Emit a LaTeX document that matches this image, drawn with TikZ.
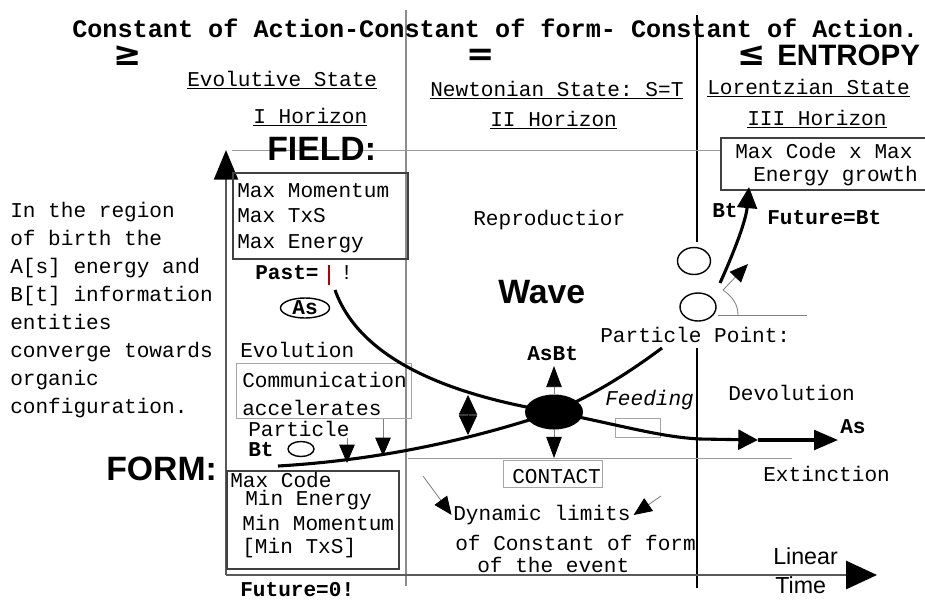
\documentclass[tikz,border=0pt]{standalone}
\usepackage{fontspec}
\setmainfont{Liberation Serif}
\setsansfont{Liberation Sans}
\setmonofont{Liberation Mono}
\newfontfamily\relfont{DejaVu Sans}
\usetikzlibrary{arrows.meta,positioning,shapes.geometric}
\tikzset{
  mono/.style={anchor=west, inner sep=0pt, font=\ttfamily\fontsize{15}{18}\selectfont},
  tag/.style={mono, font=\ttfamily\bfseries\fontsize{15}{18}\selectfont},
  bigsans/.style={anchor=west, inner sep=0pt, font=\sffamily\bfseries\fontsize{24}{28}\selectfont},
  panel/.style={draw=black!75, line width=1.5pt, anchor=north west, inner sep=0pt},
  faintbox/.style={draw=black!35, line width=0.7pt, anchor=north west, inner sep=0pt},
  flow/.style={line width=2.2pt},
  guide/.style={draw=black!50, line width=0.6pt},
  axis/.style={draw=black!65, line width=1.6pt},
  arr/.style={-{Triangle[length=13pt,width=11pt,color=black]}},
  bead/.style={ellipse, draw, line width=1pt, inner sep=0pt}
}

\begin{document}
\begin{tikzpicture}[x=0.025cm, y=-0.025cm]
\useasboundingbox (0,0) rectangle (925,600);

% dividers between the three states
\draw[black!45, line width=1.5pt] (406,10) -- (406,586);
\draw[black, line width=1.2pt] (697,15) -- (697,242);
\draw[black, line width=1.2pt] (697,348) -- (697,588);
\draw[guide, black!40] (232,150) -- (720,150);
\draw[guide, black!40] (408,458) -- (792,458);

% title row
\node[anchor=west, inner sep=0pt, font=\ttfamily\bfseries\fontsize{17.9}{20}\selectfont] (title) at (72,28) {Constant of Action-Constant of form- Constant of Action.};
\node[inner sep=0pt, font=\relfont\bfseries\fontsize{24}{24}\selectfont] (geq) at (128,56) {≥};
\node[inner sep=0pt, font=\relfont\bfseries\fontsize{24}{24}\selectfont] (eq) at (481,57) {=};
\node[inner sep=0pt, font=\relfont\bfseries\fontsize{24}{24}\selectfont] (leq) at (752,56) {≤};
\node[anchor=west, inner sep=0pt, font=\sffamily\bfseries\fontsize{21}{24}\selectfont] (entropy) at (777,55) {ENTROPY};

\node[mono] (evst) at (187,80) {\underline{Evolutive State}};
\node[mono] (hor1) at (253,117) {\underline{I Horizon}};
\node[mono] (nwst) at (430,90) {\underline{Newtonian State: S=T}};
\node[mono] (hor2) at (490,120) {\underline{II Horizon}};
\node[mono] (lrst) at (707,88) {\underline{Lorentzian State}};
\node[mono] (hor3) at (747,119) {\underline{III Horizon}};

\node[bigsans] (field) at (267,149) {FIELD:};
\node[bigsans] (form) at (106,469) {FORM:};
\node[bigsans] (wave) at (498,292) {Wave};

% axes
\coordinate (orig) at (226,575);
\coordinate (ytip) at (226,150);
\coordinate (xtip) at (877,575);
\draw[axis, -{Triangle[length=21pt,width=17pt,color=black]}] (orig) -- (ytip);
\draw[axis, -{Triangle[length=22pt,width=20pt,color=black]}] (orig) -- (xtip);
\node[anchor=west, inner sep=0pt, font=\sffamily\fontsize{16.5}{19}\selectfont] (lin) at (773,556) {Linear};
\node[anchor=west, inner sep=0pt, font=\sffamily\fontsize{16.5}{19}\selectfont] (tme) at (775,585) {Time};

% left column
\node[mono, align=left, font=\ttfamily\fontsize{15}{19.85}\selectfont] (birth) at (10,310) {In the region\\of birth the\\A[s] energy and\\B[t] information\\entities\\converge towards\\organic\\configuration.};

\node[panel, minimum width=4.375cm, minimum height=2.15cm] (maxbox) at (232,172) {};
\node[mono, align=left, font=\ttfamily\fontsize{15}{18.1}\selectfont] (maxtxt) at (237,218) {Max Momentum\\Max TxS\\Max Energy};
\node[tag] (past) at (255,273) {Past=};
\draw[red!70!black, line width=0.8pt] (329,265) -- (329,285);
\node[mono] (bang) at (340,273) {!};
\node[bead, minimum width=1.225cm, minimum height=0.5cm, font=\ttfamily\bfseries\fontsize{15}{18}\selectfont] (asbead) at (305,308) {As};

\node[mono] (evol) at (240,350) {Evolution};
\node[faintbox, minimum width=4.375cm, minimum height=1.375cm] (commbox) at (236,363) {};
\node[mono, align=left, font=\ttfamily\fontsize{15}{19.5}\selectfont] (commtxt) at (242,394) {Communication\\accelerates};
\node[mono] (partl) at (248,429) {Particle};
\node[tag] (btl) at (248,450) {Bt};
\node[bead, minimum width=0.65cm, minimum height=0.375cm] (btbead) at (301,449) {};

\node[panel, minimum width=4.3cm, minimum height=2.45cm] (formbox) at (226,470) {};
\node[mono] (f1) at (230,480) {Max Code};
\node[mono] (f2) at (245,500) {Min Energy};
\node[mono] (f3) at (242,523) {Min Momentum};
\node[mono] (f4) at (242,548) {[Min TxS]};
\node[tag] (fut0) at (240,590) {Future=0!};

% middle column
\node[mono] (repro) at (473,220) {Reproductior};
\node[tag] (asbt) at (527,354) {AsBt};
\node[mono, font=\ttfamily\itshape\fontsize{15}{18}\selectfont] (feed) at (605,400) {Feeding};
\node[faintbox, minimum width=1.125cm, minimum height=0.475cm] (feedbox) at (615,418) {};
\node[faintbox, minimum width=2.475cm, minimum height=0.675cm] (contactbox) at (503,460) {};
\node[mono] (contacttxt) at (512,477) {CONTACT};
\node[mono] (dyn1) at (453,515) {Dynamic limits};
\node[mono] (dyn2) at (455,543) {of Constant of form};
\node[mono] (dyn3) at (477,565) {of the event};

% right column
\node[panel, minimum width=5.75cm, minimum height=1.3cm] (codebox) at (720,137) {};
\node[mono] (c1) at (735,151) {Max Code x Max};
\node[mono] (c2) at (753,176) {Energy growth};
\node[tag] (btr) at (712,211) {Bt};
\node[tag] (futbt) at (767,218) {Future=Bt};
\node[bead, minimum width=0.825cm, minimum height=0.675cm] (pp1) at (694,261) {};
\node[bead, minimum width=0.9cm, minimum height=0.7cm] (pp2) at (698,307) {};
\node[mono] (ppoint) at (600,335) {Particle Point:};
\node[mono] (devol) at (728,393) {Devolution};
\node[mono] (extn) at (763,474) {Extinction};
\node[tag] (asr) at (840,427) {As};

% As and Bt paths
\coordinate (aStart) at (335,290);
\coordinate (amid) at (758,440);
\coordinate (aend) at (838,440);
\coordinate (bStart) at (278,466);
\coordinate (bRise) at (720,283);
\coordinate (bTop) at (749,187);
\draw[flow] (aStart) .. controls (360,360) and (450,395) .. (554,412);
\draw[flow, -{Triangle[length=14pt,width=14pt]}] (554,412) .. controls (620,425) and (660,437) .. (700,439) -- (amid);
\draw[flow, -{Triangle[length=17pt,width=14pt]}] (amid) -- (aend);
\draw[flow] (bStart) .. controls (380,460) and (470,440) .. (554,412);
\draw[flow] (554,412) .. controls (600,392) and (635,368) .. (662,348);
\draw[flow, -{Triangle[length=15pt,width=14pt]}] (bRise) .. controls (735,250) and (746,220) .. (bTop);

% angle mark
\draw[guide] (718,315) -- (807,315);
\draw[guide] (723,290) .. controls (733,297) and (738,305) .. (738,315);
\draw[guide, arr] (723,290) -- (748,264);

% contact point
\node[ellipse, fill=black, minimum width=1.45cm, minimum height=0.875cm, inner sep=0pt] (contact) at (554,412) {};
\coordinate (uptip) at (552,366);
\coordinate (dntip) at (552,458);
\draw[guide, -{Triangle[length=15pt,width=11pt,color=black]}] (contact.north) -- (contact.north |- uptip);
\draw[guide, -{Triangle[length=15pt,width=11pt,color=black]}] (contact.south) -- (contact.south |- dntip);
\coordinate (dtop) at (468,395);
\coordinate (dbot) at (468,435);
\draw[line width=0.4pt, {Triangle[length=14pt,width=13pt]}-{Triangle[length=14pt,width=13pt]}] (dtop) -- (dbot);

% drops onto the Bt path
\coordinate (dropA) at (347,438);
\coordinate (hitA) at (347,463);
\coordinate (hitB) at (383,456);
\draw[guide, -{Triangle[length=13pt,width=11pt,color=black]}] (dropA) -- (hitA);
\draw[guide, -{Triangle[length=13pt,width=11pt,color=black]}] (commbox.south -| hitB) -- (hitB);

% limits
\coordinate (dynl) at (423,476);
\coordinate (dynr) at (661,496);
\draw[guide, arr] (dynl) -- ([xshift=-1pt]dyn1.west);
\draw[guide, arr] (dynr) -- ([xshift=2pt]dyn1.east);
\end{tikzpicture}
\end{document}
